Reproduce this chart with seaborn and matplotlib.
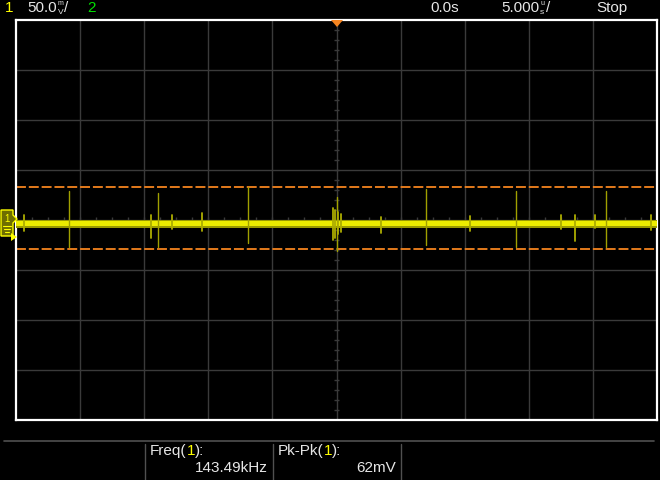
import numpy as np
import pandas as pd
import matplotlib
matplotlib.use("Agg")
import matplotlib.pyplot as plt
import seaborn as sns
from matplotlib.patches import Polygon
from matplotlib.lines import Line2D

# ---------------- data ----------------
time_div_us = 5.0
volt_div_mv = 50.0
n_hdiv = 10
n_vdiv = 8

band_hi_mv = -1.0
band_lo_mv = -6.2
fringe_hi_mv = 0.0
fringe_lo_mv = -7.6
cursor_hi_mv = 33
cursor_lo_mv = -29

spike_t_us = [-20.9, -13.9, -6.9, 0.0, 7.0, 14.0, 21.0]
spike_max_mv = [29, 27, 33, 23, 31, 29, 29]
spike_min_mv = [-27, -27, -23, -31, -25, -27, -27]

glitch_t_us = [-24.4, -14.5, -12.8, -10.5, -0.3, -0.15, 0.15, 0.35, 3.5,
               10.4, 17.5, 18.6, 20.2, 24.5]
glitch_max_mv = [5, 5, 5, 7, 12, 10, 8, 6, 3, 4, 5, 5, 5, 5]
glitch_min_mv = [-11, -18, -9, -11, -20, -18, -14, -12, -13, -11, -9, -21, -8, -10]

ch1_label = "1"
ch2_label = "2"
volt_scale = "50.0"
time_offset = "0.0s"
time_scale = "5.000"
run_state = "Stop"
meas_names = ["Freq", "Pk-Pk"]
meas_values = ["143.49kHz", "62mV"]

# ---------------- style ----------------
sns.set_theme(style="dark")
plt.rcParams['font.family'] = ['Liberation Sans', 'DejaVu Sans']

W, H = 660, 480
fig = plt.figure(figsize=(6.6, 4.8), dpi=100, facecolor="black")
renderer = fig.canvas.get_renderer()


def P(x, y):
    return (x / W, 1 - y / H)


ax = fig.add_axes([16 / W, 60 / H, 641 / W, 400 / H])
ax.set_facecolor("black")
xmax = n_hdiv / 2 * time_div_us
ymax = n_vdiv / 2 * volt_div_mv
ax.set_xlim(-xmax, xmax)
ax.set_ylim(-ymax, ymax)
ax.set_xticks([])
ax.set_yticks([])
ax.grid(False)
for s in ax.spines.values():
    s.set_color("white")
    s.set_linewidth(1.6)

grid_c = "#3a3a3a"
for k in range(1, n_hdiv):
    ax.axvline(-xmax + k * time_div_us, color=grid_c, lw=1.0, zorder=1)
for k in range(1, n_vdiv):
    ax.axhline(-ymax + k * volt_div_mv, color=grid_c, lw=1.0, zorder=1)

# centre-line minor ticks
vt = np.arange(-ymax, ymax + 0.1, volt_div_mv / 5)
ax.hlines(vt, -0.23, 0.23, color=grid_c, lw=1.0, zorder=1)
ht = np.arange(-xmax, xmax + 0.01, time_div_us / 4)
ax.vlines(ht, -3, 3, color=grid_c, lw=1.0, zorder=1)

# cursors
ax.axhline(cursor_hi_mv, color="#f5841f", lw=1.3, ls=(0, (5.5, 1.6)), zorder=2)
ax.axhline(cursor_lo_mv, color="#f5841f", lw=1.3, ls=(0, (5.5, 1.6)), zorder=2)

# trace band
ax.fill_between([-xmax, xmax], fringe_lo_mv, fringe_hi_mv, color="#9a9a00", lw=0, zorder=3)
ax.fill_between([-xmax, xmax], band_lo_mv, band_hi_mv, color="#ecec00", lw=0, zorder=4)

# spikes and glitches
rows = []
for i, (t, hi, lo) in enumerate(zip(spike_t_us, spike_max_mv, spike_min_mv)):
    rows += [dict(t=t, v=hi, id=i), dict(t=t, v=lo, id=i)]
df_sp = pd.DataFrame(rows)
rows = []
for i, (t, hi, lo) in enumerate(zip(glitch_t_us, glitch_max_mv, glitch_min_mv)):
    rows += [dict(t=t, v=hi, id=i), dict(t=t, v=lo, id=i)]
df_gl = pd.DataFrame(rows)

sns.lineplot(data=df_sp, x="t", y="v", units="id", estimator=None, sort=False,
             color="#a0a000", lw=1.0, ax=ax, legend=False, zorder=5)
sns.lineplot(data=df_gl, x="t", y="v", units="id", estimator=None, sort=False,
             color="#acac00", lw=1.3, ax=ax, legend=False, zorder=5)
ax.set_xlabel("")
ax.set_ylabel("")
ax.set_xlim(-xmax, xmax)
ax.set_ylim(-ymax, ymax)

# ---------------- figure decorations ----------------
txt_c = "#e6e6e6"
fs = 11


def put(x, y, s, c=txt_c, size=fs, ha="left"):
    t = fig.text(*P(x, y), s, color=c, fontsize=size, va="center", ha=ha)
    return t.get_window_extent(renderer=renderer).width


def unit_stack(x, top, bottom):
    put(x, 3.5, top, size=5)
    put(x, 12.0, bottom, size=6)
    return 6


fig.text(*P(5, 8), ch1_label, color="#ffff00", fontsize=fs, va="center", ha="left")
x = 27
x += put(x, 8, volt_scale) + 1
x += unit_stack(x, "m", "V")
put(x, 8, "/")
put(87, 8, ch2_label, c="#00e000")
put(430, 8, time_offset)
x = 501
x += put(x, 8, time_scale) + 1
x += unit_stack(x, "u", "s")
put(x, 8, "/")
put(596, 8, run_state)

# trigger marker
fig.add_artist(Polygon([P(331, 20), P(343, 20), P(337, 27)], closed=True,
                       transform=fig.transFigure, facecolor="#f5841f", edgecolor="none", zorder=10))

# channel marker
fig.add_artist(Polygon([P(1, 210), P(13, 210), P(13, 215), P(17, 219), P(13, 223),
                        P(13, 236), P(1, 236)], closed=True, transform=fig.transFigure,
                       facecolor="#6e6e00", edgecolor="#ffff00", lw=1.0, zorder=10))
fig.add_artist(Polygon([P(11, 233), P(17, 237), P(11, 241)], closed=True,
                       transform=fig.transFigure, facecolor="#ffff00", edgecolor="none", zorder=10))
fig.text(*P(7, 219), ch1_label, color="#ffff00", fontsize=7, va="center", ha="center", zorder=11)
for (x0, x1, y) in [(3, 11, 226), (4, 10, 229), (5, 9, 232)]:
    fig.add_artist(Line2D([x0 / W, x1 / W], [1 - y / H, 1 - y / H], color="#ffff00",
                          lw=0.8, transform=fig.transFigure, zorder=11))

# bottom measurement panel
sep_c = "#505050"
fig.add_artist(Line2D([4 / W, 654 / W], [1 - 441 / H, 1 - 441 / H], color=sep_c, lw=1.2,
                      transform=fig.transFigure))
for xs in [145, 273, 401]:
    fig.add_artist(Line2D([xs / W, xs / W], [1 - 444 / H, 0], color=sep_c, lw=1.0,
                          transform=fig.transFigure))


def multi(x, y, pieces):
    for s, c in pieces:
        x += put(x, y, s, c=c)


multi(150, 451, [(meas_names[0] + "(", txt_c), (ch1_label, "#ffff00"), ("):", txt_c)])
multi(278, 451, [(meas_names[1] + "(", txt_c), (ch1_label, "#ffff00"), ("):", txt_c)])
put(268, 467.5, meas_values[0], ha="right")
put(396, 467.5, meas_values[1], ha="right")

fig.savefig("out.png", dpi=100, facecolor="black")
